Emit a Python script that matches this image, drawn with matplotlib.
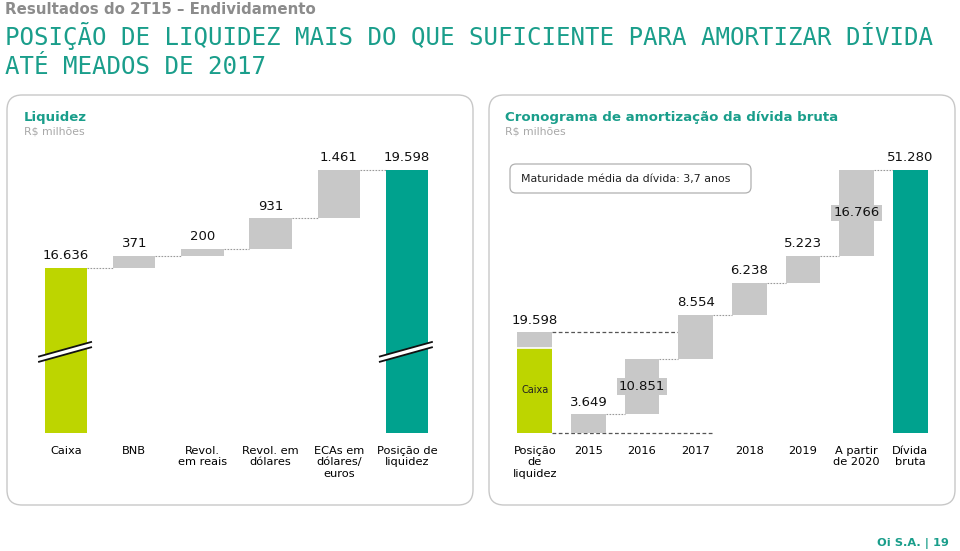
import matplotlib
matplotlib.use("Agg")
import matplotlib.pyplot as plt
from matplotlib.patches import FancyBboxPatch, Polygon
from matplotlib.transforms import Affine2D
import numpy as np

# ---------------- data ----------------
liq_labels = ["Caixa", "BNB", "Revol.\nem reais", "Revol. em\ndólares",
              "ECAs em\ndólares/\neuros", "Posição de\nliquidez"]
liq_start = 16636
liq_steps = [371, 200, 931, 1461]
liq_total = 19598

amort_labels = ["Posição\nde\nliquidez", "2015", "2016", "2017", "2018", "2019",
                "A partir\nde 2020", "Dívida\nbruta"]
amort_steps = [3649, 10851, 8554, 6238, 5223, 16766]
debt_total = 51280

# ---------------- style ----------------
GRAY = "#c8c8c8"
GREEN = "#bdd500"
TEAL = "#00a28e"
TITLE_TEAL = "#1a9e8b"
TXT_GRAY = "#8c8c8c"
plt.rcParams["font.family"] = ["DejaVu Sans"]

W, H = 960, 551
fig = plt.figure(figsize=(W / 100, H / 100), dpi=100)
T = Affine2D().scale(1 / W, -1 / H).translate(0, 1) + fig.transFigure


def fmt(v):
    return f"{v:,}".replace(",", ".")


# ---------------- header ----------------
fig.text(5, 14, "Resultados do 2T15 – Endividamento", transform=T, fontsize=10.8,
         fontweight="bold", color=TXT_GRAY, va="baseline")
fig.text(5, 45, "POSIÇÃO DE LIQUIDEZ MAIS DO QUE SUFICIENTE PARA AMORTIZAR DÍVIDA",
         transform=T, fontsize=17.4, family="DejaVu Sans Mono", color=TITLE_TEAL,
         va="baseline")
fig.text(5, 74, "ATÉ MEADOS DE 2017", transform=T, fontsize=17.4,
         family="DejaVu Sans Mono", color=TITLE_TEAL, va="baseline")

# panel boxes
for (x0, y0, x1, y1) in [(7, 95, 473, 505), (489, 95, 955, 505)]:
    fig.patches.append(FancyBboxPatch((x0, y0), x1 - x0, y1 - y0,
                                      boxstyle="round,pad=0,rounding_size=15",
                                      transform=T, fc="none", ec="#c8c8c8", lw=1.0))

fig.text(24, 121, "Liquidez", transform=T, fontsize=9.5, fontweight="bold",
         color=TITLE_TEAL, va="baseline")
fig.text(24, 135, "R$ milhões", transform=T, fontsize=7.8, color="#a8a8a8",
         va="baseline")
fig.text(505, 121, "Cronograma de amortização da dívida bruta", transform=T,
         fontsize=9.6, fontweight="bold", color=TITLE_TEAL, va="baseline")
fig.text(505, 135, "R$ milhões", transform=T, fontsize=7.8, color="#a8a8a8",
         va="baseline")

fig.patches.append(FancyBboxPatch((510, 164), 241, 29,
                                  boxstyle="round,pad=0,rounding_size=6",
                                  transform=T, fc="white", ec="#b0b0b0", lw=0.9))
fig.text(521, 179, "Maturidade média da dívida: 3,7 anos", transform=T,
         fontsize=7.9, color="#222222", va="center")

fig.text(949, 546, "Oi S.A. | 19", transform=T, fontsize=8.2, fontweight="bold",
         color=TITLE_TEAL, ha="right", va="baseline")

# ---------------- left chart: liquidity ----------------
floor = 11650
axL = fig.add_axes([32 / W, 118 / H, 409 / W, 293 / H])
axL.set_xlim(-0.5, len(liq_labels) - 0.5)
axL.set_ylim(floor, 20500)
bw = 0.62
xL = np.arange(len(liq_labels))

cum = liq_start + np.concatenate([[0], np.cumsum(liq_steps)])
axL.bar(0, liq_start - floor, bottom=floor, width=bw, color=GREEN, zorder=2)
for i, s in enumerate(liq_steps):
    axL.bar(i + 1, s, bottom=cum[i], width=bw, color=GRAY, zorder=2)
axL.bar(len(liq_labels) - 1, liq_total - floor, bottom=floor, width=bw, color=TEAL,
        zorder=2)

tops = [liq_start] + list(cum[1:]) + [liq_total]
texts = [liq_start] + liq_steps + [liq_total]
for i, (tp, v) in enumerate(zip(tops, texts)):
    axL.annotate(fmt(v), (i, tp), xytext=(0, 4), textcoords="offset points",
                 ha="center", va="bottom", fontsize=9.5, color="#111111")

# connectors
for i in range(len(liq_labels) - 1):
    lvl = cum[i] if i < len(cum) else liq_total
    axL.plot([i + bw / 2, i + 1 - bw / 2], [lvl, lvl], color="#9a9a9a",
             lw=0.8, ls=(0, (1.5, 1.2)), zorder=1)

# axis break marks
yb = 14100
for xi in [0, len(liq_labels) - 1]:
    xa, xb = xi - 0.41, xi + 0.38
    d = 226
    g = 160
    poly = Polygon([[xa, yb - d + g / 2], [xb, yb + d + g / 2],
                    [xb, yb + d - g / 2], [xa, yb - d - g / 2]],
                   closed=True, fc="white", ec="none", zorder=3)
    axL.add_patch(poly)
    for off in (g / 2, -g / 2):
        axL.plot([xa, xb], [yb - d + off, yb + d + off], color="#111111", lw=1.3,
                 zorder=4, solid_capstyle="butt")

axL.set_xticks(xL, liq_labels)
axL.tick_params(axis="x", length=0, pad=9, labelsize=8.2)
axL.set_yticks([])
for sp in axL.spines.values():
    sp.set_visible(False)
axL.patch.set_alpha(0)

# ---------------- right chart: amortization ----------------
axR = fig.add_axes([508 / W, 118 / H, 429 / W, 293 / H])
axR.set_xlim(-0.5, len(amort_labels) - 0.5)
axR.set_ylim(0, 57130)
bw2 = 0.65
xR = np.arange(len(amort_labels))

# liquidity position bar (cash + other)
axR.bar(0, liq_start, width=bw2, color=GREEN, zorder=2)
axR.bar(0, liq_total - liq_start, bottom=liq_start, width=bw2, color=GRAY, zorder=2)
axR.plot([-bw2 / 2, bw2 / 2], [liq_start, liq_start], color="white", lw=1.2, zorder=3)
axR.text(0, liq_start / 2, "Caixa", ha="center", va="center", fontsize=7,
         color="#222222", zorder=4)
axR.annotate(fmt(liq_total), (0, liq_total), xytext=(0, 4), textcoords="offset points",
             ha="center", va="bottom", fontsize=9.5, color="#111111")

starts = np.concatenate([[0], np.cumsum(amort_steps)])
for i, s in enumerate(amort_steps):
    xi = i + 1
    axR.bar(xi, s, bottom=starts[i], width=bw2, color=GRAY, zorder=2)
    if s > 10000:
        axR.text(xi, starts[i] + s / 2, fmt(s), ha="center", va="center",
                 fontsize=9.5, color="#111111", zorder=4,
                 bbox=dict(boxstyle="square,pad=0.15", fc=GRAY, ec="none"))
    else:
        axR.annotate(fmt(s), (xi, starts[i] + s), xytext=(0, 4),
                     textcoords="offset points", ha="center", va="bottom",
                     fontsize=9.5, color="#111111")
    # connector to next bar
    axR.plot([xi + bw2 / 2, xi + 1 - bw2 / 2], [starts[i + 1]] * 2, color="#9a9a9a",
             lw=0.8, ls=(0, (1.5, 1.2)), zorder=1)

xt = len(amort_labels) - 1
axR.bar(xt, debt_total, width=bw2, color=TEAL, zorder=2)
axR.annotate(fmt(debt_total), (xt, debt_total), xytext=(0, 4),
             textcoords="offset points", ha="center", va="bottom", fontsize=9.5,
             color="#111111")

# liquidity coverage dashed guides (up to 2017)
for lvl in (liq_total, 0):
    axR.plot([bw2 / 2, 3 + bw2 / 2], [lvl, lvl], color="#555555", lw=0.9,
             ls=(0, (3, 2)), zorder=1, clip_on=False)

axR.set_xticks(xR, amort_labels)
axR.tick_params(axis="x", length=0, pad=9, labelsize=8.2)
axR.set_yticks([])
for sp in axR.spines.values():
    sp.set_visible(False)
axR.patch.set_alpha(0)

fig.savefig("out.png", dpi=100)
